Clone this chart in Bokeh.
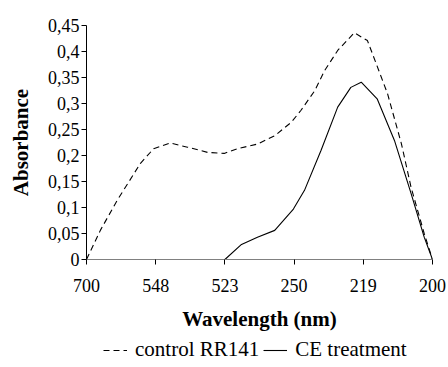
from bokeh.plotting import figure
from bokeh.layouts import column
from bokeh.models import Range1d, FixedTicker, Legend, LegendItem, CustomJSTickFormatter
from bokeh.embed import file_html
from bokeh.resources import INLINE

wavelength_labels = ["700", "548", "523", "250", "219", "200"]
y_ticks = [0, 0.05, 0.1, 0.15, 0.2, 0.25, 0.3, 0.35, 0.4, 0.45]

control_x = [0, 0.2, 0.44, 0.78, 0.97, 1.21, 1.46, 1.75, 1.99, 2.18, 2.47, 2.72, 2.96, 3.1, 3.3, 3.44, 3.63, 3.87, 4.06, 4.35, 4.55, 4.69, 4.88, 5]
control_y = [0, 0.056, 0.113, 0.185, 0.213, 0.224, 0.216, 0.206, 0.204, 0.213, 0.222, 0.238, 0.264, 0.287, 0.325, 0.363, 0.402, 0.436, 0.421, 0.319, 0.223, 0.139, 0.05, 0]

ce_x = [2.0, 2.24, 2.47, 2.72, 2.99, 3.15, 3.39, 3.63, 3.82, 3.97, 4.2, 4.45, 4.69, 4.88, 5]
ce_y = [0, 0.029, 0.043, 0.056, 0.097, 0.133, 0.21, 0.293, 0.331, 0.341, 0.309, 0.229, 0.127, 0.043, 0]

series_labels = ["control RR141", "CE treatment"]

FONT = "Liberation Serif"

p = figure(frame_width=346, frame_height=234, output_backend="svg", toolbar_location=None,
           x_range=Range1d(0, 5), y_range=Range1d(0, 0.45),
           min_border_left=86, min_border_right=14, min_border_top=25, min_border_bottom=78)
p.outline_line_color = None
p.xgrid.visible = False
p.ygrid.visible = False
p.background_fill_color = "white"

p.line(control_x, control_y, line_color="black", line_width=1.1, line_dash="6 4")
p.line(ce_x, ce_y, line_color="black", line_width=1.1)

p.xaxis.ticker = FixedTicker(ticks=list(range(len(wavelength_labels))))
p.xaxis.major_label_overrides = {i: s for i, s in enumerate(wavelength_labels)}
p.yaxis.ticker = FixedTicker(ticks=y_ticks)
p.yaxis.formatter = CustomJSTickFormatter(code="return String(Math.round(tick*100)/100).replace('.', ',');")

for ax in (p.xaxis[0], p.yaxis[0]):
    ax.major_label_text_font = FONT
    ax.major_label_text_font_size = "18px"
    ax.major_label_text_color = "black"
    ax.axis_label_text_font = FONT
    ax.axis_label_text_font_size = "21px"
    ax.axis_label_text_font_style = "bold"
    ax.axis_label_text_color = "black"
    ax.minor_tick_line_color = None
    ax.major_tick_in = 0
    ax.major_tick_out = 5
    ax.major_tick_line_color = "black"

p.xaxis.axis_line_color = "#808080"
p.yaxis.axis_line_color = "black"
p.xaxis.axis_label = "Wavelength (nm)"
p.yaxis.axis_label = "Absorbance"
p.xaxis.major_label_standoff = 14
p.xaxis.axis_label_standoff = 12
p.yaxis.major_label_standoff = 2
p.yaxis.axis_label_standoff = 12

# legend strip below the chart (same series, drawn out of view so only the key shows)
lg = figure(frame_width=346, frame_height=26, output_backend="svg", toolbar_location=None,
            x_axis_location=None, y_axis_location=None,
            x_range=Range1d(0, 5), y_range=Range1d(10, 11),
            min_border_left=86, min_border_right=14, min_border_top=0, min_border_bottom=0)
lg.outline_line_color = None
lg.grid.visible = False
k1 = lg.line(control_x, control_y, line_color="black", line_width=1.1, line_dash="6 4")
k2 = lg.line(ce_x, ce_y, line_color="black", line_width=1.1)

legend = Legend(items=[LegendItem(label=series_labels[0], renderers=[k1]),
                       LegendItem(label=series_labels[1], renderers=[k2])],
                orientation="horizontal", location=(17, 1),
                label_text_font=FONT, label_text_font_size="21px", label_text_color="black",
                border_line_color=None, background_fill_alpha=0,
                glyph_width=24, glyph_height=20, label_height=20,
                spacing=4, label_standoff=8, padding=0, margin=0)
lg.add_layout(legend, "center")

open("out.html", "w").write(file_html(column(p, lg), INLINE))
